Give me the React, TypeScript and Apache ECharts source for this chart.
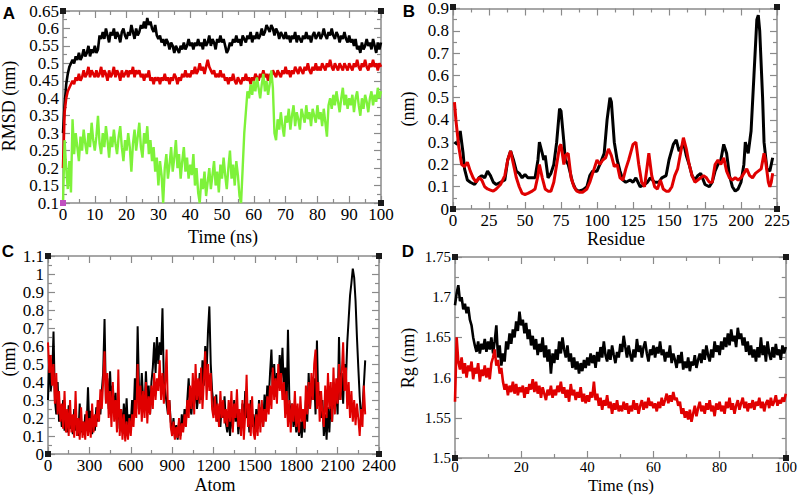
import React, { useEffect, useRef } from "react";
import * as echarts from "echarts";

// ---------- Panel A: RMSD vs time (0.5 ns steps) ----------
const rmsdBlackA = [
  0.30, 0.38, 0.44, 0.47, 0.49, 0.50, 0.51, 0.50, 0.52, 0.51, 0.53, 0.51, 0.52, 0.54, 0.52, 0.53, 0.55, 0.52, 0.54, 0.53, 0.55,
  0.53, 0.54, 0.58, 0.57, 0.59, 0.57, 0.60, 0.58, 0.56, 0.59, 0.58, 0.60, 0.57, 0.59, 0.58, 0.56, 0.59, 0.60, 0.58, 0.57,
  0.59, 0.58, 0.61, 0.59, 0.57, 0.60, 0.58, 0.59, 0.61, 0.60, 0.62, 0.60, 0.63, 0.61, 0.62, 0.60, 0.59, 0.61, 0.58, 0.57,
  0.58, 0.56, 0.57, 0.55, 0.57, 0.56, 0.54, 0.56, 0.55, 0.53, 0.55, 0.54, 0.53, 0.55, 0.54, 0.56, 0.54, 0.55, 0.57, 0.55,
  0.56, 0.54, 0.56, 0.55, 0.57, 0.55, 0.56, 0.54, 0.57, 0.55, 0.56, 0.58, 0.55, 0.57, 0.56, 0.54, 0.57, 0.56, 0.58, 0.56,
  0.57, 0.55, 0.53, 0.54, 0.56, 0.55, 0.57, 0.56, 0.58, 0.56, 0.57, 0.55, 0.58, 0.57, 0.56, 0.58, 0.57, 0.59, 0.56, 0.58,
  0.57, 0.59, 0.57, 0.58, 0.60, 0.58, 0.59, 0.61, 0.60, 0.59, 0.61, 0.60, 0.58, 0.60, 0.59, 0.57, 0.59, 0.58, 0.57, 0.59,
  0.57, 0.58, 0.56, 0.58, 0.57, 0.59, 0.56, 0.58, 0.57, 0.56, 0.58, 0.57, 0.59, 0.57, 0.58, 0.56, 0.58, 0.59, 0.57, 0.58,
  0.59, 0.57, 0.58, 0.60, 0.58, 0.57, 0.59, 0.58, 0.60, 0.58, 0.57, 0.59, 0.58, 0.56, 0.58, 0.57, 0.59, 0.57, 0.56, 0.58,
  0.56, 0.57, 0.55, 0.57, 0.54, 0.55, 0.53, 0.56, 0.54, 0.55, 0.57, 0.55, 0.56, 0.54, 0.57, 0.55, 0.53, 0.56, 0.54, 0.56,
];
const rmsdRedA = [
  0.20, 0.36, 0.40, 0.42, 0.43, 0.44, 0.45, 0.44, 0.46, 0.45, 0.47, 0.45, 0.46, 0.48, 0.46, 0.47, 0.49, 0.46, 0.48, 0.47, 0.46,
  0.48, 0.46, 0.47, 0.49, 0.46, 0.48, 0.47, 0.45, 0.48, 0.46, 0.47, 0.49, 0.46, 0.48, 0.47, 0.45, 0.48, 0.46, 0.47, 0.48,
  0.46, 0.48, 0.47, 0.49, 0.46, 0.48, 0.47, 0.48, 0.46, 0.47, 0.45, 0.47, 0.46, 0.48, 0.45, 0.46, 0.44, 0.46, 0.45, 0.46,
  0.44, 0.46, 0.45, 0.47, 0.45, 0.46, 0.44, 0.46, 0.45, 0.47, 0.46, 0.44, 0.46, 0.45, 0.47, 0.46, 0.48, 0.46, 0.47, 0.46,
  0.48, 0.47, 0.49, 0.47, 0.48, 0.50, 0.48, 0.49, 0.47, 0.49, 0.51, 0.49, 0.48, 0.47, 0.48, 0.46, 0.47, 0.46, 0.48, 0.46,
  0.47, 0.45, 0.46, 0.44, 0.46, 0.45, 0.47, 0.45, 0.44, 0.46, 0.45, 0.44, 0.46, 0.45, 0.47, 0.45, 0.46, 0.44, 0.46, 0.45,
  0.47, 0.46, 0.45, 0.47, 0.46, 0.48, 0.46, 0.47, 0.45, 0.47, 0.46, 0.48, 0.47, 0.46, 0.48, 0.47, 0.46, 0.48, 0.47, 0.49,
  0.47, 0.48, 0.46, 0.48, 0.47, 0.49, 0.48, 0.47, 0.49, 0.48, 0.47, 0.49, 0.48, 0.50, 0.48, 0.47, 0.49, 0.48, 0.50, 0.48,
  0.49, 0.48, 0.50, 0.49, 0.48, 0.50, 0.49, 0.51, 0.49, 0.48, 0.50, 0.49, 0.48, 0.50, 0.49, 0.48, 0.50, 0.49, 0.48, 0.50,
  0.49, 0.48, 0.50, 0.49, 0.51, 0.49, 0.48, 0.50, 0.49, 0.51, 0.49, 0.48, 0.50, 0.49, 0.51, 0.49, 0.50, 0.48, 0.50, 0.49,
];
const rmsdGreenA = [
  0.10, 0.28, 0.20, 0.14, 0.22, 0.13, 0.34, 0.24, 0.30, 0.26, 0.22, 0.29, 0.25, 0.31, 0.27, 0.24, 0.30, 0.26, 0.33, 0.28, 0.25,
  0.29, 0.35, 0.27, 0.24, 0.30, 0.26, 0.32, 0.28, 0.23, 0.29, 0.26, 0.31, 0.27, 0.24, 0.29, 0.32, 0.26, 0.22, 0.28, 0.25,
  0.30, 0.26, 0.19, 0.27, 0.31, 0.25, 0.29, 0.33, 0.26, 0.23, 0.30, 0.27, 0.32, 0.24, 0.28, 0.22, 0.26, 0.19, 0.23, 0.15,
  0.22, 0.18, 0.10, 0.20, 0.24, 0.17, 0.21, 0.26, 0.19, 0.23, 0.28, 0.20, 0.24, 0.17, 0.22, 0.26, 0.19, 0.23, 0.17, 0.21,
  0.18, 0.24, 0.15, 0.20, 0.13, 0.10, 0.17, 0.14, 0.19, 0.12, 0.16, 0.20, 0.14, 0.18, 0.22, 0.15, 0.19, 0.13, 0.21, 0.17,
  0.23, 0.18, 0.14, 0.20, 0.25, 0.17, 0.21, 0.15, 0.22, 0.18, 0.12, 0.10, 0.20, 0.30, 0.36, 0.42, 0.40, 0.44, 0.41, 0.45,
  0.42, 0.46, 0.43, 0.40, 0.44, 0.47, 0.42, 0.45, 0.41, 0.44, 0.48, 0.43, 0.30, 0.28, 0.34, 0.31, 0.36, 0.32, 0.29, 0.35,
  0.33, 0.37, 0.31, 0.35, 0.38, 0.32, 0.36, 0.34, 0.31, 0.37, 0.35, 0.33, 0.38, 0.34, 0.36, 0.32, 0.37, 0.35, 0.33, 0.38,
  0.34, 0.36, 0.32, 0.37, 0.33, 0.29, 0.38, 0.40, 0.37, 0.41, 0.38, 0.42, 0.39, 0.36, 0.40, 0.43, 0.38, 0.41, 0.37, 0.40,
  0.38, 0.41, 0.36, 0.40, 0.42, 0.38, 0.35, 0.40, 0.37, 0.41, 0.39, 0.36, 0.40, 0.42, 0.38, 0.41, 0.39, 0.43, 0.40, 0.42,
];
const timeStepA = 0.5;

// ---------- Panel B: RMSF per residue [residue, nm] ----------
const rmsfBlackB: [number, number][] = [
  [1, 0.30], [3, 0.29], [5, 0.35], [7, 0.25], [8, 0.18], [10, 0.13], [12, 0.12], [15, 0.11], [18, 0.14], [20, 0.15],
  [22, 0.14], [24, 0.17], [26, 0.15], [28, 0.12], [30, 0.11], [33, 0.12], [36, 0.13], [38, 0.22], [40, 0.26], [42, 0.22],
  [44, 0.17], [46, 0.16], [48, 0.14], [50, 0.155], [52, 0.14], [55, 0.14], [57, 0.14], [59, 0.22], [60, 0.30], [62, 0.25],
  [63, 0.22], [64, 0.24], [66, 0.14], [68, 0.16], [70, 0.20], [72, 0.30], [74, 0.45], [75, 0.44], [77, 0.30], [78, 0.22],
  [80, 0.20], [83, 0.12], [85, 0.09], [87, 0.08], [90, 0.085], [93, 0.10], [95, 0.15], [97, 0.17], [100, 0.17], [102, 0.20],
  [105, 0.25], [107, 0.40], [109, 0.50], [110, 0.48], [112, 0.30], [114, 0.22], [116, 0.17], [118, 0.13], [120, 0.12], [123, 0.13],
  [125, 0.12], [127, 0.14], [130, 0.10], [133, 0.11], [135, 0.12], [137, 0.14], [140, 0.12], [143, 0.12], [145, 0.14], [148, 0.15],
  [150, 0.22], [153, 0.29], [155, 0.31], [157, 0.26], [159, 0.28], [160, 0.30], [162, 0.24], [164, 0.20], [166, 0.15], [168, 0.13],
  [170, 0.15], [172, 0.16], [175, 0.11], [178, 0.10], [180, 0.12], [182, 0.17], [184, 0.20], [186, 0.22], [188, 0.29], [190, 0.25],
  [192, 0.15], [194, 0.10], [196, 0.08], [198, 0.09], [200, 0.12], [202, 0.20], [203, 0.30], [205, 0.25], [207, 0.35], [209, 0.60],
  [211, 0.85], [212, 0.87], [213, 0.80], [215, 0.50], [216, 0.30], [218, 0.18], [220, 0.17], [222, 0.23],
];
const rmsfRedB: [number, number][] = [
  [1, 0.48], [2, 0.40], [4, 0.28], [6, 0.20], [8, 0.19], [10, 0.21], [12, 0.17], [14, 0.14], [16, 0.12], [18, 0.14],
  [20, 0.13], [22, 0.10], [24, 0.09], [26, 0.085], [28, 0.08], [30, 0.09], [33, 0.11], [36, 0.15], [38, 0.22], [40, 0.26],
  [42, 0.20], [44, 0.14], [46, 0.10], [48, 0.07], [50, 0.065], [52, 0.07], [55, 0.08], [57, 0.09], [59, 0.15], [60, 0.20],
  [62, 0.14], [64, 0.09], [66, 0.08], [68, 0.08], [70, 0.12], [72, 0.20], [74, 0.28], [75, 0.29], [77, 0.20], [78, 0.24],
  [80, 0.25], [82, 0.14], [84, 0.10], [86, 0.08], [88, 0.075], [90, 0.075], [93, 0.09], [95, 0.12], [98, 0.18], [100, 0.22],
  [102, 0.20], [104, 0.22], [106, 0.23], [108, 0.27], [110, 0.24], [112, 0.19], [114, 0.20], [116, 0.14], [118, 0.13], [120, 0.18],
  [122, 0.22], [125, 0.29], [127, 0.30], [129, 0.20], [131, 0.12], [133, 0.10], [135, 0.20], [136, 0.25], [138, 0.15], [140, 0.10],
  [142, 0.09], [144, 0.13], [146, 0.09], [148, 0.08], [150, 0.08], [152, 0.10], [154, 0.15], [156, 0.18], [158, 0.25], [160, 0.32],
  [162, 0.27], [164, 0.20], [166, 0.15], [168, 0.12], [170, 0.13], [172, 0.14], [174, 0.15], [176, 0.14], [178, 0.12], [180, 0.12],
  [182, 0.20], [184, 0.22], [186, 0.20], [188, 0.23], [190, 0.17], [192, 0.14], [194, 0.13], [196, 0.14], [198, 0.13], [200, 0.14],
  [202, 0.16], [204, 0.18], [206, 0.15], [208, 0.14], [210, 0.16], [212, 0.17], [214, 0.18], [216, 0.25], [217, 0.22], [219, 0.12],
  [220, 0.10], [221, 0.12], [222, 0.16],
];

// ---------- Panel C: RMSF per atom (every 10 atoms) ----------
const rmsfBlackC = [
  0.30, 0.55, 0.35, 0.42, 0.68, 0.30, 0.22, 0.40, 0.18, 0.25,
  0.15, 0.30, 0.13, 0.22, 0.12, 0.27, 0.14, 0.20, 0.11, 0.25,
  0.13, 0.20, 0.10, 0.28, 0.12, 0.18, 0.11, 0.22, 0.15, 0.37,
  0.14, 0.24, 0.11, 0.20, 0.13, 0.26, 0.18, 0.30, 0.22, 0.35,
  0.45, 0.75, 0.30, 0.42, 0.25, 0.46, 0.28, 0.38, 0.22, 0.34,
  0.18, 0.30, 0.14, 0.25, 0.12, 0.28, 0.15, 0.31, 0.13, 0.22,
  0.17, 0.30, 0.20, 0.42, 0.25, 0.71, 0.35, 0.28, 0.45, 0.30,
  0.24, 0.46, 0.28, 0.38, 0.22, 0.40, 0.48, 0.62, 0.45, 0.65,
  0.50, 0.62, 0.55, 0.81, 0.40, 0.35, 0.28, 0.22, 0.30, 0.18,
  0.12, 0.20, 0.09, 0.16, 0.08, 0.18, 0.10, 0.22, 0.14, 0.25,
  0.18, 0.30, 0.42, 0.25, 0.22, 0.35, 0.28, 0.40, 0.25, 0.32,
  0.45, 0.30, 0.52, 0.38, 0.60, 0.45, 0.68, 0.82, 0.50, 0.35,
  0.28, 0.22, 0.33, 0.18, 0.25, 0.15, 0.28, 0.20, 0.32, 0.17,
  0.12, 0.22, 0.10, 0.25, 0.14, 0.30, 0.18, 0.26, 0.11, 0.20,
  0.13, 0.28, 0.16, 0.35, 0.20, 0.25, 0.12, 0.30, 0.15, 0.22,
  0.11, 0.25, 0.14, 0.30, 0.18, 0.26, 0.15, 0.33, 0.22, 0.38,
  0.30, 0.45, 0.58, 0.35, 0.50, 0.32, 0.45, 0.38, 0.55, 0.42,
  0.59, 0.35, 0.48, 0.25, 0.69, 0.30, 0.20, 0.28, 0.15, 0.24,
  0.12, 0.20, 0.10, 0.18, 0.09, 0.25, 0.12, 0.30, 0.18, 0.45,
  0.25, 0.38, 0.30, 0.42, 0.22, 0.63, 0.28, 0.35, 0.20, 0.30,
  0.10, 0.22, 0.08, 0.26, 0.12, 0.30, 0.18, 0.40, 0.25, 0.35,
  0.22, 0.65, 0.30, 0.45, 0.28, 0.50, 0.40, 0.62, 0.75, 0.88,
  0.95, 1.03, 0.98, 0.85, 0.65, 0.48, 0.32, 0.20, 0.25, 0.38,
  0.52,
];
const rmsfRedC = [
  0.62, 0.45, 0.55, 0.38, 0.50, 0.28, 0.45, 0.22, 0.35, 0.18,
  0.28, 0.14, 0.35, 0.12, 0.25, 0.10, 0.30, 0.12, 0.22, 0.09,
  0.35, 0.10, 0.20, 0.08, 0.26, 0.09, 0.18, 0.08, 0.24, 0.10,
  0.20, 0.09, 0.28, 0.12, 0.22, 0.15, 0.30, 0.18, 0.36, 0.25,
  0.40, 0.57, 0.28, 0.45, 0.20, 0.35, 0.15, 0.40, 0.18, 0.30,
  0.12, 0.47, 0.10, 0.25, 0.08, 0.22, 0.07, 0.18, 0.08, 0.20,
  0.10, 0.22, 0.15, 0.30, 0.20, 0.50, 0.22, 0.38, 0.18, 0.35,
  0.20, 0.40, 0.17, 0.32, 0.22, 0.38, 0.25, 0.45, 0.30, 0.42,
  0.35, 0.52, 0.30, 0.45, 0.28, 0.40, 0.58, 0.22, 0.30, 0.15,
  0.10, 0.18, 0.08, 0.15, 0.09, 0.20, 0.08, 0.17, 0.12, 0.22,
  0.15, 0.30, 0.20, 0.38, 0.25, 0.45, 0.22, 0.50, 0.30, 0.42,
  0.28, 0.48, 0.25, 0.40, 0.57, 0.30, 0.50, 0.35, 0.45, 0.25,
  0.20, 0.32, 0.18, 0.28, 0.15, 0.35, 0.20, 0.30, 0.17, 0.25,
  0.15, 0.30, 0.18, 0.35, 0.12, 0.28, 0.20, 0.36, 0.15, 0.25,
  0.10, 0.30, 0.08, 0.22, 0.44, 0.15, 0.28, 0.10, 0.32, 0.12,
  0.08, 0.22, 0.10, 0.28, 0.12, 0.30, 0.15, 0.25, 0.18, 0.32,
  0.22, 0.38, 0.25, 0.48, 0.30, 0.42, 0.28, 0.50, 0.35, 0.45,
  0.30, 0.40, 0.20, 0.35, 0.15, 0.30, 0.12, 0.28, 0.18, 0.35,
  0.15, 0.28, 0.12, 0.32, 0.18, 0.25, 0.14, 0.38, 0.22, 0.40,
  0.25, 0.45, 0.30, 0.50, 0.58, 0.25, 0.40, 0.18, 0.35, 0.22,
  0.15, 0.38, 0.20, 0.45, 0.25, 0.40, 0.18, 0.48, 0.22, 0.42,
  0.28, 0.50, 0.30, 0.45, 0.62, 0.35, 0.48, 0.25, 0.40, 0.20,
  0.35, 0.18, 0.30, 0.16, 0.28, 0.20, 0.10, 0.25, 0.15, 0.38,
  0.22,
];
const atomStepC = 10;

// ---------- Panel D: radius of gyration (0.5 ns steps) ----------
const rgBlackD = [
  1.690, 1.705, 1.715, 1.695, 1.700, 1.685, 1.692, 1.680, 1.688, 1.672, 1.665, 1.650, 1.640, 1.632, 1.645, 1.630, 1.642, 1.635, 1.648, 1.632, 1.645,
  1.635, 1.650, 1.630, 1.645, 1.665, 1.625, 1.640, 1.615, 1.630, 1.620, 1.645, 1.635, 1.655, 1.642, 1.660, 1.650, 1.670, 1.658, 1.682, 1.665,
  1.672, 1.655, 1.668, 1.648, 1.660, 1.640, 1.652, 1.635, 1.648, 1.628, 1.642, 1.632, 1.650, 1.625, 1.640, 1.620, 1.635, 1.605, 1.630, 1.618,
  1.635, 1.622, 1.645, 1.630, 1.650, 1.635, 1.625, 1.640, 1.620, 1.630, 1.612, 1.625, 1.610, 1.620, 1.605, 1.618, 1.608, 1.622, 1.612, 1.625,
  1.615, 1.630, 1.618, 1.628, 1.612, 1.632, 1.620, 1.638, 1.625, 1.645, 1.628, 1.620, 1.635, 1.622, 1.640, 1.628, 1.618, 1.632, 1.625, 1.642,
  1.632, 1.652, 1.638, 1.625, 1.640, 1.628, 1.620, 1.635, 1.625, 1.648, 1.632, 1.640, 1.625, 1.638, 1.645, 1.630, 1.620, 1.635, 1.628, 1.640,
  1.625, 1.638, 1.630, 1.645, 1.628, 1.635, 1.620, 1.632, 1.625, 1.640, 1.618, 1.630, 1.622, 1.612, 1.628, 1.618, 1.632, 1.610, 1.620, 1.612,
  1.625, 1.608, 1.620, 1.615, 1.628, 1.612, 1.622, 1.630, 1.618, 1.635, 1.622, 1.640, 1.628, 1.620, 1.635, 1.625, 1.645, 1.632, 1.640, 1.628,
  1.645, 1.635, 1.650, 1.638, 1.655, 1.640, 1.660, 1.645, 1.652, 1.638, 1.662, 1.648, 1.655, 1.640, 1.650, 1.632, 1.645, 1.628, 1.640, 1.625,
  1.635, 1.620, 1.638, 1.625, 1.650, 1.628, 1.640, 1.620, 1.645, 1.630, 1.622, 1.638, 1.625, 1.642, 1.628, 1.635, 1.622, 1.640, 1.630, 1.638,
];
const rgRedD = [
  1.570, 1.650, 1.620, 1.610, 1.625, 1.605, 1.618, 1.600, 1.615, 1.608, 1.620, 1.598, 1.612, 1.605, 1.618, 1.595, 1.610, 1.602, 1.615, 1.600, 1.612,
  1.598, 1.618, 1.625, 1.635, 1.615, 1.622, 1.605, 1.612, 1.595, 1.585, 1.592, 1.578, 1.590, 1.582, 1.595, 1.580, 1.592, 1.578, 1.588, 1.582,
  1.590, 1.575, 1.588, 1.580, 1.592, 1.585, 1.598, 1.582, 1.595, 1.580, 1.590, 1.575, 1.588, 1.580, 1.572, 1.585, 1.578, 1.590, 1.575, 1.585,
  1.578, 1.590, 1.582, 1.595, 1.580, 1.588, 1.575, 1.585, 1.570, 1.592, 1.578, 1.585, 1.572, 1.582, 1.575, 1.588, 1.570, 1.580, 1.568, 1.578,
  1.570, 1.582, 1.575, 1.595, 1.572, 1.580, 1.565, 1.575, 1.560, 1.572, 1.565, 1.578, 1.562, 1.570, 1.555, 1.568, 1.560, 1.572, 1.558, 1.565,
  1.558, 1.570, 1.560, 1.568, 1.555, 1.565, 1.558, 1.572, 1.560, 1.568, 1.555, 1.565, 1.572, 1.560, 1.570, 1.562, 1.575, 1.565, 1.570, 1.562,
  1.568, 1.558, 1.570, 1.562, 1.575, 1.565, 1.572, 1.580, 1.568, 1.578, 1.570, 1.582, 1.572, 1.575, 1.565, 1.570, 1.555, 1.562, 1.550, 1.558,
  1.548, 1.560, 1.545, 1.555, 1.565, 1.552, 1.562, 1.570, 1.558, 1.565, 1.555, 1.568, 1.560, 1.572, 1.558, 1.565, 1.552, 1.568, 1.560, 1.570,
  1.558, 1.565, 1.555, 1.570, 1.562, 1.575, 1.560, 1.568, 1.555, 1.565, 1.572, 1.560, 1.568, 1.575, 1.562, 1.570, 1.558, 1.568, 1.562, 1.572,
  1.560, 1.570, 1.565, 1.575, 1.562, 1.570, 1.558, 1.568, 1.572, 1.562, 1.575, 1.565, 1.570, 1.578, 1.565, 1.572, 1.568, 1.575, 1.570, 1.580,
];
const timeStepD = 0.5;

const BLACK = "#000000";
const RED = "#e00000";
const GREEN = "#7ef23a";
const FRAME = "#8a8a8a";
const SERIF = "Liberation Serif";
const SANS = "Liberation Sans";

type Grid = { left: number; top: number; width: number; height: number };
const grids: Grid[] = [
  { left: 63, top: 11, width: 318, height: 192 },
  { left: 453, top: 7, width: 324, height: 202 },
  { left: 48, top: 256, width: 331, height: 198 },
  { left: 455, top: 257, width: 331, height: 201 },
];

const indexed = (vals: number[], step: number) => vals.map((v, i) => [i * step, v]);

function axisPair(
  kind: "x" | "y",
  gridIndex: number,
  min: number,
  max: number,
  interval: number,
  fontSize: number,
  margin: number
) {
  const common = {
    type: "value",
    gridIndex,
    min,
    max,
    interval,
    splitLine: { show: false },
    axisLine: { show: true, onZero: false, lineStyle: { color: FRAME, width: 1.5 } },
    axisTick: { show: true, inside: true, length: 7, lineStyle: { color: FRAME, width: 1.2 } },
    minorTick: { show: true, splitNumber: 2, length: 4, lineStyle: { color: FRAME, width: 1.2 } },
  };
  const main = {
    ...common,
    position: kind === "x" ? "bottom" : "left",
    axisLabel: {
      show: true,
      color: "#000",
      fontFamily: SERIF,
      fontSize,
      margin,
      formatter: (v: number) => String(Math.round(v * 1000) / 1000),
    },
  };
  const mirror = {
    ...common,
    position: kind === "x" ? "top" : "right",
    axisLabel: { show: false },
  };
  return [main, mirror];
}

function lineSeries(gi: number, data: number[][], color: string, width: number, z: number) {
  return {
    type: "line",
    xAxisIndex: gi * 2,
    yAxisIndex: gi * 2,
    data,
    showSymbol: false,
    symbol: "none",
    lineStyle: { color, width },
    z,
    silent: true,
  };
}

function corners(g: Grid, bottomLeftColor: string) {
  const pts = [
    [g.left, g.top, "#1a1a1a"],
    [g.left + g.width, g.top, "#1a1a1a"],
    [g.left + g.width, g.top + g.height, "#1a1a1a"],
    [g.left, g.top + g.height, bottomLeftColor],
  ] as [number, number, string][];
  return pts.map(([x, y, c]) => ({
    type: "rect",
    shape: { x: x - 3, y: y - 3, width: 6, height: 6 },
    style: { fill: c },
    z: 100,
  }));
}

function text(t: string, x: number, y: number, opts: any = {}) {
  return {
    type: "text",
    x,
    y,
    rotation: opts.rotate ? Math.PI / 2 : 0,
    style: {
      text: t,
      fill: "#000",
      fontFamily: opts.family || SERIF,
      fontSize: opts.size || 18,
      fontWeight: opts.bold ? "bold" : "normal",
      textAlign: "center",
      textVerticalAlign: "middle",
    },
    z: 100,
  };
}

export default function App() {
  const ref = useRef<HTMLDivElement>(null);
  useEffect(() => {
    document.body.style.margin = "0";
    if (!ref.current) return;
    const chart = echarts.init(ref.current, undefined, { renderer: "svg" });

    const [ax, axm] = axisPair("x", 0, 0, 100, 10, 17, 3);
    const [ay, aym] = axisPair("y", 0, 0.1, 0.65, 0.05, 17, 4);
    const [bx, bxm] = axisPair("x", 1, 0, 225, 25, 17, 3);
    const [by, bym] = axisPair("y", 1, 0, 0.9, 0.1, 17, 4);
    const [cx, cxm] = axisPair("x", 2, 0, 2400, 300, 17, 3);
    const [cy, cym] = axisPair("y", 2, 0, 1.1, 0.1, 17, 4);
    const [dx, dxm] = axisPair("x", 3, 0, 100, 20, 15, 1);
    const [dy, dym] = axisPair("y", 3, 1.5, 1.75, 0.05, 15, 4);

    const L = { family: SANS, size: 17, bold: true };

    chart.setOption({
      animation: false,
      backgroundColor: "#ffffff",
      textStyle: { fontFamily: SERIF },
      grid: grids.map((g) => ({ ...g, containLabel: false })),
      xAxis: [ax, axm, bx, bxm, cx, cxm, dx, dxm],
      yAxis: [ay, aym, by, bym, cy, cym, dy, dym],
      series: [
        lineSeries(0, indexed(rmsdBlackA, timeStepA), BLACK, 2.6, 2),
        lineSeries(0, indexed(rmsdRedA, timeStepA), RED, 2.6, 3),
        lineSeries(0, indexed(rmsdGreenA, timeStepA), GREEN, 2.4, 4),
        lineSeries(1, rmsfBlackB, BLACK, 3, 2),
        lineSeries(1, rmsfRedB, RED, 3, 3),
        lineSeries(2, indexed(rmsfBlackC, atomStepC), BLACK, 2, 2),
        lineSeries(2, indexed(rmsfRedC, atomStepC), RED, 2, 3),
        lineSeries(3, indexed(rgBlackD, timeStepD), BLACK, 2.6, 2),
        lineSeries(3, indexed(rgRedD, timeStepD), RED, 2.6, 3),
      ],
      graphic: [
        ...corners(grids[0], "#c050c0"),
        ...corners(grids[1], "#1a1a1a"),
        ...corners(grids[2], "#1a1a1a"),
        ...corners(grids[3], "#1a1a1a"),
        text("A", 9, 13, L),
        text("B", 409, 11, L),
        text("C", 8, 251, L),
        text("D", 408, 251, L),
        text("RMSD (nm)", 9, 106, { rotate: true }),
        text("Time (ns)", 223, 237),
        text("(nm)", 408, 109, { rotate: true }),
        text("Residue", 616, 239),
        text("(nm)", 9, 359, { rotate: true }),
        text("Atom", 215, 485),
        text("Rg (nm)", 408, 358, { rotate: true }),
        text("Time (ns)", 621, 485, { size: 17 }),
      ],
    });
    return () => chart.dispose();
  }, []);
  return <div ref={ref} style={{ width: 800, height: 495 }} />;
}
